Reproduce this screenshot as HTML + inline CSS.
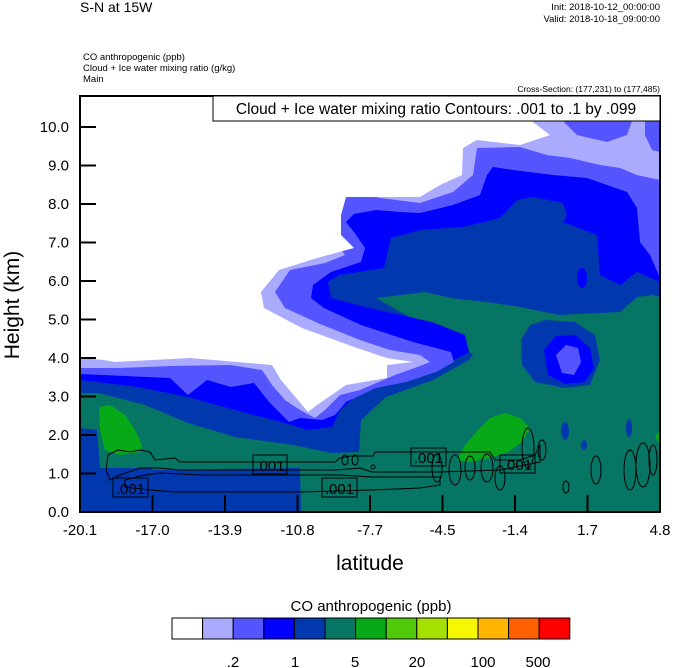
<!DOCTYPE html>
<html><head><meta charset="utf-8"><style>
html,body{margin:0;padding:0;background:#fff;width:674px;height:668px;overflow:hidden}
svg{display:block}
text{font-family:"Liberation Sans",sans-serif;fill:#000}
</style></head><body>
<svg width="674" height="668" viewBox="0 0 674 668" xmlns="http://www.w3.org/2000/svg">
<defs><clipPath id="pc"><rect x="80" y="96" width="580" height="416"/></clipPath></defs>
<g clip-path="url(#pc)">
<rect x="80" y="96" width="580" height="416" fill="#067563"/>
<!-- dark blue -->
<polygon fill="#0238AE" points="80,96 660,96 660,297 653,295 637,297 620,312 559,315 520,307 487,302 451,298 425,292 376,298 406,315 451,335 473,355 469,360 433,380 386,397 361,420 359,452 332,453 293,445 235,437 188,423 145,405 99,393 80,393"/>
<polygon fill="#0238AE" points="80,428 97,430 100,468 150,468 154,470 300,468 301,512 80,512"/>
<polygon fill="#0238AE" points="521,340 530,325 545,320 575,322 595,335 600,360 590,385 565,388 535,382 522,365"/>
<!-- blue -->
<polygon fill="#0000FF" points="80,96 660,96 660,282 637,272 620,285 600,275 597,235 563,222 567,215 563,203 533,197 517,200 500,218 463,227 420,230 391,238 384,268 339,275 328,282 331,298 369,308 432,322 465,335 469,352 448,363 410,373 363,390 340,410 332,427 308,430 285,423 235,410 188,397 138,387 80,380"/>
<ellipse cx="582" cy="278" rx="5" ry="10" fill="#0000FF"/>
<polygon fill="#0000FF" points="544,350 556,336 575,335 590,348 594,368 585,382 565,384 548,375"/>
<!-- medium blue -->
<polygon fill="#5555FF" points="80,96 660,96 660,278 650,255 640,242 637,208 627,192 607,185 587,178 553,175 513,170 493,167 487,175 480,195 453,205 420,213 400,212 376,210 354,214 346,222 354,232 365,248 361,262 331,272 313,285 311,298 324,308 361,325 413,342 451,352 454,362 436,372 406,382 376,388 346,402 335,415 322,420 300,418 289,422 270,403 254,383 231,387 207,380 188,395 170,378 80,374"/>
<polygon fill="#5555FF" points="556,355 566,345 578,348 581,362 574,375 562,373"/>
<!-- light blue -->
<polygon fill="#AAAAFF" points="80,96 660,96 660,180 637,175 620,168 600,165 570,158 547,155 520,147 477,148 473,175 453,192 420,203 380,198 350,190 333,192 332,220 334,240 345,255 325,263 290,270 275,292 285,308 320,324 360,340 390,350 420,355 430,362 420,366 395,375 360,390 340,395 325,410 315,418 300,410 285,400 272,385 262,370 230,365 170,366 120,368 80,368"/>
<polygon fill="#5555FF" points="560,118 577,135 607,142 627,135 633,118"/>
<polygon fill="#5555FF" points="645,118 645,135 652,150 660,152 660,118"/>
<!-- white -->
<polygon fill="#FFFFFF" points="80,96 533,96 533,122 550,135 520,145 477,140 463,148 462,175 440,185 420,197 346,197 341,215 341,235 354,248 317,258 279,270 261,292 264,308 302,328 357,348 387,358 413,362 387,365 387,378 346,385 317,405 308,412 281,380 272,365 190,358 115,362 104,360 80,358"/>
<!-- greens -->
<polygon fill="#07A918" points="99,407 110,405 125,415 135,430 142,445 140,452 120,455 105,450 100,430"/>
<polygon fill="#07A918" points="457,460 465,445 478,430 490,418 505,413 520,418 530,428 522,442 508,452 490,458 470,462"/>
<polygon fill="#07A918" points="655,437 660,430 660,445"/>
<ellipse cx="565" cy="431" rx="4" ry="9" fill="#0238AE"/>
<ellipse cx="629" cy="428" rx="3" ry="9" fill="#0238AE"/>
<ellipse cx="584" cy="445" rx="3" ry="5" fill="#0238AE"/>
<!-- contours -->
<g fill="none" stroke="#000" stroke-width="1">
<path d="M106,470 L108,455 118,450 130,452 140,450 150,452 155,460 175,458 180,462 335,462 340,458 350,456 373,456 375,452 440,452 490,452 495,460 520,460 535,455 540,445 540,462 500,470 440,472 372,472 360,468 336,470 180,470 160,468 140,468 120,475 110,480 Z"/>
<path d="M125,487 L150,490 175,492 300,492 371,490 420,488 440,485 440,477 372,477 340,475 200,475 160,473 140,476 125,480 Z"/>
<ellipse cx="437" cy="468" rx="5" ry="14"/><ellipse cx="455" cy="470" rx="6" ry="15"/><ellipse cx="470" cy="468" rx="5" ry="12"/>
<ellipse cx="487" cy="468" rx="6" ry="14"/><ellipse cx="500" cy="478" rx="5" ry="12"/><ellipse cx="528" cy="448" rx="6" ry="20"/>
<ellipse cx="542" cy="450" rx="4" ry="10"/><ellipse cx="566" cy="487" rx="3" ry="6"/><ellipse cx="596" cy="470" rx="5" ry="14"/>
<ellipse cx="630" cy="470" rx="6" ry="20"/><ellipse cx="643" cy="465" rx="7" ry="22"/><ellipse cx="653" cy="460" rx="4" ry="15"/>
<ellipse cx="345" cy="460" rx="3" ry="5"/><ellipse cx="355" cy="460" rx="3" ry="5"/><ellipse cx="373" cy="467" rx="2" ry="2"/>
</g>
<g fill="none" stroke="#000" stroke-width="1">
<rect x="113" y="478" width="35" height="19"/><rect x="253" y="455" width="34" height="19"/>
<rect x="322" y="478" width="35" height="19"/><rect x="411" y="448" width="35" height="18"/>
<rect x="500" y="455" width="35" height="18"/>
</g>
<g font-size="15">
<text x="130.5" y="494" text-anchor="middle">.001</text><text x="270" y="471" text-anchor="middle">.001</text>
<text x="339.5" y="494" text-anchor="middle">.001</text><text x="428.5" y="463" text-anchor="middle">.001</text>
<text x="517.5" y="470" text-anchor="middle">.001</text>
</g>
</g>
<!-- frame -->
<rect x="80" y="96" width="580" height="416" fill="none" stroke="#000" stroke-width="2"/>
<rect x="213" y="96" width="447" height="25" fill="#fff" stroke="#000" stroke-width="1"/>
<text x="436" y="114" font-size="15.5" text-anchor="middle">Cloud + Ice water mixing ratio Contours: .001 to .1 by .099</text>
<!-- ticks -->
<g stroke="#000" stroke-width="2">
<line x1="80" y1="127" x2="96" y2="127"/><line x1="80" y1="165.5" x2="96" y2="165.5"/><line x1="80" y1="204" x2="96" y2="204"/>
<line x1="80" y1="242.5" x2="96" y2="242.5"/><line x1="80" y1="281" x2="96" y2="281"/><line x1="80" y1="319.5" x2="96" y2="319.5"/>
<line x1="80" y1="358" x2="96" y2="358"/><line x1="80" y1="396.5" x2="96" y2="396.5"/><line x1="80" y1="435" x2="96" y2="435"/>
<line x1="80" y1="473.5" x2="96" y2="473.5"/>
<line x1="152.5" y1="512" x2="152.5" y2="495"/><line x1="225" y1="512" x2="225" y2="495"/><line x1="297.5" y1="512" x2="297.5" y2="495"/>
<line x1="370" y1="512" x2="370" y2="495"/><line x1="442.5" y1="512" x2="442.5" y2="495"/><line x1="515" y1="512" x2="515" y2="495"/>
<line x1="587.5" y1="512" x2="587.5" y2="495"/>
</g>
<g font-size="15" text-anchor="end">
<text x="69" y="132">10.0</text><text x="69" y="170.5">9.0</text><text x="69" y="209">8.0</text><text x="69" y="247.5">7.0</text>
<text x="69" y="286">6.0</text><text x="69" y="324.5">5.0</text><text x="69" y="363">4.0</text><text x="69" y="401.5">3.0</text>
<text x="69" y="440">2.0</text><text x="69" y="478.5">1.0</text><text x="69" y="517">0.0</text>
</g>
<g font-size="15" text-anchor="middle">
<text x="80" y="535">-20.1</text><text x="152.5" y="535">-17.0</text><text x="225" y="535">-13.9</text><text x="297.5" y="535">-10.8</text>
<text x="370" y="535">-7.7</text><text x="442.5" y="535">-4.5</text><text x="515" y="535">-1.4</text><text x="587.5" y="535">1.7</text><text x="660" y="535">4.8</text>
</g>
<text x="370" y="570" font-size="21" text-anchor="middle">latitude</text>
<text transform="translate(19,305) rotate(-90)" font-size="21" text-anchor="middle">Height (km)</text>
<!-- headers -->
<text x="80" y="12" font-size="14">S-N at 15W</text>
<text x="660" y="10" font-size="9.5" text-anchor="end">Init: 2018-10-12_00:00:00</text>
<text x="660" y="22" font-size="9.5" text-anchor="end">Valid: 2018-10-18_09:00:00</text>
<text x="83" y="60" font-size="9.5">CO anthropogenic   (ppb)</text>
<text x="83" y="71" font-size="9.5">Cloud + Ice water mixing ratio   (g/kg)</text>
<text x="83" y="82" font-size="9.5">Main</text>
<text x="660" y="92" font-size="8.5" text-anchor="end">Cross-Section: (177,231) to (177,485)</text>
<!-- colorbar -->
<text x="371" y="611" font-size="15" text-anchor="middle">CO anthropogenic  (ppb)</text>
<g stroke="#000" stroke-width="1">
<rect x="172" y="618" width="30.6" height="21" fill="#FFFFFF"/><rect x="202.6" y="618" width="30.6" height="21" fill="#AAAAFF"/>
<rect x="233.2" y="618" width="30.6" height="21" fill="#5555FF"/><rect x="263.8" y="618" width="30.6" height="21" fill="#0000FF"/>
<rect x="294.4" y="618" width="30.6" height="21" fill="#0238AE"/><rect x="325" y="618" width="30.6" height="21" fill="#067563"/>
<rect x="355.6" y="618" width="30.6" height="21" fill="#07A918"/><rect x="386.2" y="618" width="30.6" height="21" fill="#52C80A"/>
<rect x="416.8" y="618" width="30.6" height="21" fill="#A6E000"/><rect x="447.4" y="618" width="30.6" height="21" fill="#F5F800"/>
<rect x="478" y="618" width="30.6" height="21" fill="#FFB400"/><rect x="508.6" y="618" width="30.6" height="21" fill="#FF6000"/>
<rect x="539.2" y="618" width="30.6" height="21" fill="#FF0000"/>
</g>
<g font-size="15" text-anchor="middle">
<text x="233" y="667">.2</text><text x="295" y="667">1</text><text x="355" y="667">5</text>
<text x="417" y="667">20</text><text x="483" y="667">100</text><text x="538" y="667">500</text>
</g>
</svg>
</body></html>
